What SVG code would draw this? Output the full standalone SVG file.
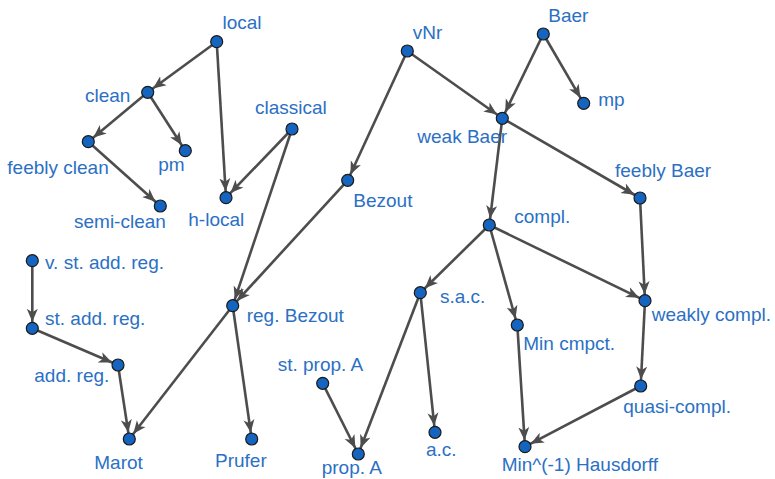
<svg xmlns="http://www.w3.org/2000/svg" width="775" height="479" viewBox="0 0 775 479">
  <style>
    .edge { stroke: #4d4d4d; stroke-width: 2.6; fill: none; marker-end: url(#arrow); }
    .node circle { fill: #1565c0; stroke: #1a1a1a; stroke-width: 1.2; }
    .node text { font-family: "Liberation Sans", Arial, sans-serif; font-size: 19px; fill: #2b70c4; }
  </style>
  <defs>
    <marker id="arrow" markerUnits="userSpaceOnUse" viewBox="0 0 20 12" markerWidth="20" markerHeight="12" refX="19.5" refY="6" orient="auto">
      <path d="M0,0.5 L13,6 L0,11.5 L3.5,6 Z" fill="#4d4d4d"/>
    </marker>
  </defs>
  <rect width="775" height="479" fill="#ffffff"/>

  <g id="connectors">
    <line class="edge" x1="216.7" y1="41.7" x2="147.7" y2="92.3"/>
    <line class="edge" x1="216.7" y1="41.7" x2="226" y2="197.7"/>
    <line class="edge" x1="147.7" y1="92.3" x2="88.3" y2="141.7"/>
    <line class="edge" x1="147.7" y1="92.3" x2="185.3" y2="150.7"/>
    <line class="edge" x1="88.3" y1="141.7" x2="160.3" y2="206"/>
    <line class="edge" x1="292" y1="129" x2="226" y2="197.7"/>
    <line class="edge" x1="292" y1="129" x2="232.7" y2="305.7"/>
    <line class="edge" x1="347.7" y1="180.3" x2="232.7" y2="305.7"/>
    <line class="edge" x1="407.3" y1="51" x2="347.7" y2="180.3"/>
    <line class="edge" x1="407.3" y1="51" x2="502.3" y2="118.3"/>
    <line class="edge" x1="543.3" y1="34" x2="502.3" y2="118.3"/>
    <line class="edge" x1="543.3" y1="34" x2="583.7" y2="103.3"/>
    <line class="edge" x1="502.3" y1="118.3" x2="489.3" y2="225"/>
    <line class="edge" x1="502.3" y1="118.3" x2="640" y2="198"/>
    <line class="edge" x1="640" y1="198" x2="645" y2="300.7"/>
    <line class="edge" x1="489.3" y1="225" x2="420.3" y2="292.7"/>
    <line class="edge" x1="489.3" y1="225" x2="517.3" y2="325"/>
    <line class="edge" x1="489.3" y1="225" x2="645" y2="300.7"/>
    <line class="edge" x1="420.3" y1="292.7" x2="358.3" y2="454"/>
    <line class="edge" x1="420.3" y1="292.7" x2="435" y2="432.3"/>
    <line class="edge" x1="517.3" y1="325" x2="525" y2="446.7"/>
    <line class="edge" x1="645" y1="300.7" x2="640.7" y2="386"/>
    <line class="edge" x1="640.7" y1="386" x2="525" y2="446.7"/>
    <line class="edge" x1="32.3" y1="260.7" x2="32.3" y2="328.3"/>
    <line class="edge" x1="32.3" y1="328.3" x2="118" y2="365"/>
    <line class="edge" x1="118" y1="365" x2="129.3" y2="439"/>
    <line class="edge" x1="232.7" y1="305.7" x2="129.3" y2="439"/>
    <line class="edge" x1="232.7" y1="305.7" x2="251.7" y2="439"/>
    <line class="edge" x1="322.7" y1="383.3" x2="358.3" y2="454"/>
  </g>

  <g id="local" class="node"><circle cx="216.7" cy="41.7" r="6"/><text x="222.5" y="29.3">local</text></g>
  <g id="clean" class="node"><circle cx="147.7" cy="92.3" r="6"/><text x="85" y="102.3">clean</text></g>
  <g id="feebly-clean" class="node"><circle cx="88.3" cy="141.7" r="6"/><text x="7.3" y="174.3">feebly clean</text></g>
  <g id="pm" class="node"><circle cx="185.3" cy="150.7" r="6"/><text x="158.3" y="170.7">pm</text></g>
  <g id="semi-clean" class="node"><circle cx="160.3" cy="206" r="6"/><text x="74" y="227.7">semi-clean</text></g>
  <g id="h-local" class="node"><circle cx="226" cy="197.7" r="6"/><text x="188.3" y="225.7">h-local</text></g>
  <g id="classical" class="node"><circle cx="292" cy="129" r="6"/><text x="255" y="114.3">classical</text></g>
  <g id="bezout" class="node"><circle cx="347.7" cy="180.3" r="6"/><text x="353.3" y="206.7">Bezout</text></g>
  <g id="vnr" class="node"><circle cx="407.3" cy="51" r="6"/><text x="412.7" y="39.3">vNr</text></g>
  <g id="baer" class="node"><circle cx="543.3" cy="34" r="6"/><text x="548.3" y="22.3">Baer</text></g>
  <g id="mp" class="node"><circle cx="583.7" cy="103.3" r="6"/><text x="598.3" y="106">mp</text></g>
  <g id="weak-baer" class="node"><circle cx="502.3" cy="118.3" r="6"/><text x="417.3" y="143.3">weak Baer</text></g>
  <g id="feebly-baer" class="node"><circle cx="640" cy="198" r="6"/><text x="615" y="176.7">feebly Baer</text></g>
  <g id="compl" class="node"><circle cx="489.3" cy="225" r="6"/><text x="514.3" y="222.7">compl.</text></g>
  <g id="sac" class="node"><circle cx="420.3" cy="292.7" r="6"/><text x="440" y="303.3">s.a.c.</text></g>
  <g id="min-cmpct" class="node"><circle cx="517.3" cy="325" r="6"/><text x="523.3" y="350">Min cmpct.</text></g>
  <g id="weakly-compl" class="node"><circle cx="645" cy="300.7" r="6"/><text x="651.7" y="321">weakly compl.</text></g>
  <g id="quasi-compl" class="node"><circle cx="640.7" cy="386" r="6"/><text x="623.3" y="412.7">quasi-compl.</text></g>
  <g id="ac" class="node"><circle cx="435" cy="432.3" r="6"/><text x="426" y="456">a.c.</text></g>
  <g id="min-inv-hausdorff" class="node"><circle cx="525" cy="446.7" r="6"/><text x="501.7" y="471">Min^(-1) Hausdorff</text></g>
  <g id="v-st-add-reg" class="node"><circle cx="32.3" cy="260.7" r="6"/><text x="45" y="269.3">v. st. add. reg.</text></g>
  <g id="st-add-reg" class="node"><circle cx="32.3" cy="328.3" r="6"/><text x="45" y="325">st. add. reg.</text></g>
  <g id="add-reg" class="node"><circle cx="118" cy="365" r="6"/><text x="34.3" y="381.7">add. reg.</text></g>
  <g id="marot" class="node"><circle cx="129.3" cy="439" r="6"/><text x="94.3" y="469.3">Marot</text></g>
  <g id="reg-bezout" class="node"><circle cx="232.7" cy="305.7" r="6"/><text x="246.7" y="322.3">reg. Bezout</text></g>
  <g id="prufer" class="node"><circle cx="251.7" cy="439" r="6"/><text x="215" y="466.7">Prufer</text></g>
  <g id="st-prop-a" class="node"><circle cx="322.7" cy="383.3" r="6"/><text x="277.7" y="371">st. prop. A</text></g>
  <g id="prop-a" class="node"><circle cx="358.3" cy="454" r="6"/><text x="321.7" y="474">prop. A</text></g>
</svg>
